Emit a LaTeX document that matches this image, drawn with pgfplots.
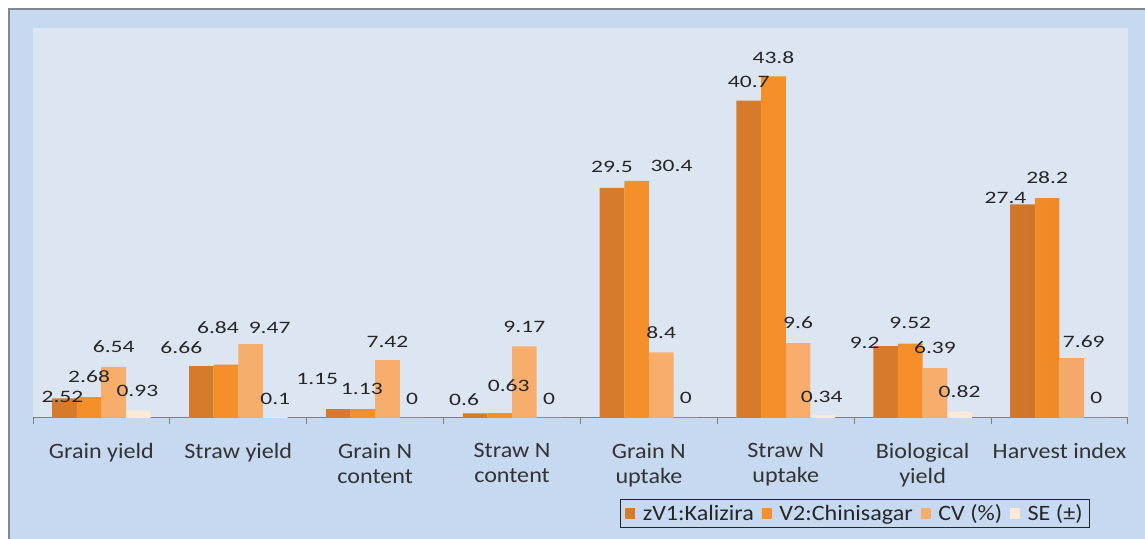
\documentclass[border=0pt]{standalone}
\usepackage{pgfplots}
\usepackage{pgfplotstable}
\pgfplotsset{compat=1.18}
\usepackage{fontspec}
\setmainfont{Carlito}
\newfontfamily\tickfam{Carlito}[FakeStretch=1.1]
\newfontfamily\valfam{Carlito}[FakeStretch=1.35]

\definecolor{outerblue}{HTML}{C6D9F1}
\definecolor{innerblue}{HTML}{DCE6F2}
\definecolor{framegray}{HTML}{7F8790}
\definecolor{axisgray}{HTML}{808080}
\definecolor{txtgray}{HTML}{333333}
\definecolor{v1e}{HTML}{8E4409}
\definecolor{v1m}{HTML}{D67A2C}
\definecolor{v2e}{HTML}{B25A0E}
\definecolor{v2m}{HTML}{F58F2A}
\definecolor{cve}{HTML}{C9783A}
\definecolor{cvm}{HTML}{F7AE6C}
\definecolor{see}{HTML}{B89C80}
\definecolor{sem}{HTML}{FAEBD8}

\pgfdeclarehorizontalshading{v1shade}{100bp}{color(0bp)=(v1e); color(22bp)=(v1m); color(72bp)=(v1m); color(100bp)=(v1e)}
\pgfdeclarehorizontalshading{v2shade}{100bp}{color(0bp)=(v2e); color(22bp)=(v2m); color(72bp)=(v2m); color(100bp)=(v2e)}
\pgfdeclarehorizontalshading{cvshade}{100bp}{color(0bp)=(cve); color(22bp)=(cvm); color(72bp)=(cvm); color(100bp)=(cve)}
\pgfdeclarehorizontalshading{seshade}{100bp}{color(0bp)=(see); color(22bp)=(sem); color(72bp)=(sem); color(100bp)=(see)}

% x value label dx dy (label offsets in px)
\pgfplotstableread{
x y lab dx dy
0 2.52 2.52 -2 1
1 6.66 6.66 -20 18
2 1.15 1.15 -21 30
3 0.6 0.6 -11 14
4 29.5 29.5 0 21
5 40.7 40.7 0 18.5
6 9.2 9.2 -21 3
7 27.4 27.4 -17 6
}\tabVone
\pgfplotstableread{
x y lab dx dy
0 2.68 2.68 0 20
1 6.84 6.84 -8 36.6
2 1.13 1.13 -1 20
3 0.63 0.63 9 27
4 30.4 30.4 35 15
5 43.8 43.8 0 19
6 9.52 9.52 0 21
7 28.2 28.2 0 20
}\tabVtwo
\pgfplotstableread{
x y lab dx dy
0 6.54 6.54 0 20
1 9.47 9.47 19 16
2 7.42 7.42 0 18
3 9.17 9.17 0 19.5
4 8.4 8.4 0 19.5
5 9.6 9.6 0 20
6 6.39 6.39 0 20
7 7.69 7.69 12 16
}\tabCV
\pgfplotstableread{
x y lab dx dy
0 0.93 0.93 -1 20
1 0.1 0.1 0 18
2 0 0 0 19
3 0 0 0 19
4 0 0 0 20
5 0.34 0.34 -1 18
6 0.82 0.82 0 20
7 0 0 0 20
}\tabSE

\begin{document}
\begin{tikzpicture}[x=1bp,y=1bp]
\useasboundingbox (0,0) rectangle (1145,539);
\fill[white] (0,0) rectangle (1145,539);
\filldraw[fill=outerblue, draw=framegray, line width=2bp] (9,-10) rectangle (1160,530);
\begin{axis}[
  at={(33bp,121bp)}, anchor=south west,
  scale only axis, width=1095bp, height=390bp,
  xmin=-0.5, xmax=7.5, ymin=0, ymax=50,
  axis background/.style={fill=innerblue},
  axis x line*=bottom, axis y line=none,
  x axis line style={color=axisgray, line width=1bp},
  ytick=\empty,
  xtick={0,...,7},
  xticklabels={Grain yield, Straw yield, Grain N\\content, Straw N\\content, Grain N\\uptake, Straw N\\uptake, Biological\\yield, Harvest index},
  major tick length=0pt,
  minor xtick={-0.5,0.5,...,7.5},
  minor tick length=6bp,
  tick align=outside,
  minor tick style={color=axisgray, line width=1bp},
  xticklabel style={align=center, anchor=north, yshift=-22bp, text=txtgray,
    font=\tickfam\fontsize{22}{25}\selectfont},
  ybar=0pt, bar width=0.18,
  clip=false,
  point meta=explicit symbolic,
  visualization depends on={\thisrow{dx} \as \ldx},
  visualization depends on={\thisrow{dy} \as \ldy},
  nodes near coords,
  every node near coord/.append style={anchor=center, xshift=\ldx bp, yshift=\ldy bp,
    text=black!85, inner sep=0pt, font=\valfam\fontsize{17.5}{19}\selectfont},
  legend columns=4,
  legend style={at={(0.7507,-0.2449)}, anchor=center, draw=black!85, line width=0.8bp,
    fill=none, font=\tickfam\fontsize{22}{24}\selectfont, text=black!85,
    inner xsep=5bp, inner ysep=3bp,
    /tikz/every odd column/.append style={column sep=6bp},
    /tikz/every even column/.append style={column sep=6bp}},
  legend image code/.code={\path[#1, draw=none] (0bp,-4.5bp) rectangle (9.5bp,5bp);},
]
\addplot[shading=v1shade, draw=none] table[x=x, y=y, meta=lab] {\tabVone};
\addplot[shading=v2shade, draw=none] table[x=x, y=y, meta=lab] {\tabVtwo};
\addplot[shading=cvshade, draw=none] table[x=x, y=y, meta=lab] {\tabCV};
\addplot[shading=seshade, draw=none] table[x=x, y=y, meta=lab] {\tabSE};
\legend{zV1:Kalizira, V2:Chinisagar, CV (\%), SE (±)}
\end{axis}
\end{tikzpicture}
\end{document}
